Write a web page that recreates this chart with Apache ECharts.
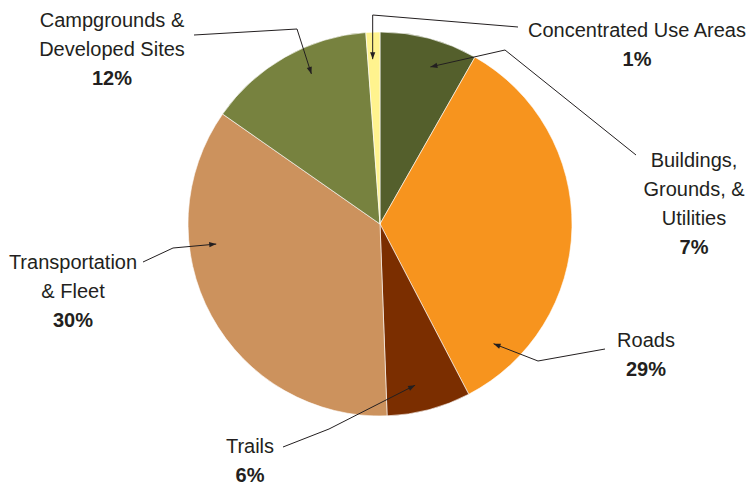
<!DOCTYPE html>
<html>
<head>
<meta charset="utf-8">
<script src="https://cdn.jsdelivr.net/npm/echarts@6/dist/echarts.min.js"></script>
<style>
  html, body { margin: 0; padding: 0; background: #ffffff; }
  #chart { width: 748px; height: 486px; }
</style>
</head>
<body>
<div id="chart"></div>
<script>
// Cost categories, clockwise from 12 o'clock
const categories = [
  'Buildings, Grounds, & Utilities',
  'Roads',
  'Trails',
  'Transportation & Fleet',
  'Campgrounds & Developed Sites',
  'Concentrated Use Areas'
];
// How each category name is broken over lines in its label
const labelLines = [
  ['Buildings,', 'Grounds, &', 'Utilities'],
  ['Roads'],
  ['Trails'],
  ['Transportation', '& Fleet'],
  ['Campgrounds &', 'Developed Sites'],
  ['Concentrated Use Areas']
];
// Share of the total, in percent
const shares = [7, 29, 6, 30, 12, 1];
const colors = ['#545f2c', '#f7941e', '#7b2e00', '#cc925d', '#77823f', '#fff38e'];

// Layout
const CX = 380, CY = 224, R = 192;
const FONT = "'Liberation Sans', Arial, sans-serif";
const FONT_SIZE = 20;
const TEXT_COLOR = '#231f20';
const labelPos = [[694, 203.5], [646, 354.5], [250, 460.5], [73, 291], [112, 49], [637, 44.5]];
const lineEnd  = [[636, 155], [605, 349], [283, 447], [143, 262], [194, 35], [518, 27]];
const elbowPos = [[505, 50], [538, 361], [329, 429], [173, 248], [297, 29], [null, 15]];
const pointerFrac = [0.6, 0.87, 0.6, 0.67, 0.6, 0.4];
const POINTER_R = 165;

// Pointer tips sit inside each slice, at a fraction of its sweep
const total = shares.reduce((a, b) => a + b, 0);
let acc = 0;
const tips = shares.map((v, i) => {
  const a0 = acc / total * 360;
  acc += v;
  const a1 = acc / total * 360;
  const a = (a0 + (a1 - a0) * pointerFrac[i]) * Math.PI / 180;
  return [CX + POINTER_R * Math.sin(a), CY - POINTER_R * Math.cos(a)];
});
const elbows = elbowPos.map((p, i) => [p[0] === null ? tips[i][0] : p[0], p[1]]);

// Leader line from the label to the slice
function leader(i) {
  return {
    type: 'polyline',
    silent: true,
    z: 100,
    shape: { points: [lineEnd[i], elbows[i], tips[i]] },
    style: { stroke: TEXT_COLOR, lineWidth: 1, fill: null }
  };
}
// Arrowhead at the pointer tip
function arrowHead(i) {
  const tip = tips[i], from = elbows[i];
  const dx = tip[0] - from[0], dy = tip[1] - from[1];
  const len = Math.hypot(dx, dy) || 1;
  const ux = dx / len, uy = dy / len;
  const L = 7, W = 2.6;
  return {
    type: 'polygon',
    silent: true,
    z: 101,
    shape: { points: [
      [tip[0], tip[1]],
      [tip[0] - ux * L - uy * W, tip[1] - uy * L + ux * W],
      [tip[0] - ux * L + uy * W, tip[1] - uy * L - ux * W]
    ] },
    style: { fill: TEXT_COLOR }
  };
}

const chart = echarts.init(document.getElementById('chart'), null, { renderer: 'svg' });
chart.setOption({
  backgroundColor: '#ffffff',
  animation: false,
  series: [{
    type: 'pie',
    center: [CX, CY],
    radius: R,
    startAngle: 90,
    clockwise: true,
    silent: true,
    avoidLabelOverlap: false,
    itemStyle: { borderColor: '#ffffff', borderWidth: 0.6 },
    data: categories.map((name, i) => ({ name: name, value: shares[i], itemStyle: { color: colors[i] } })),
    label: {
      show: true,
      position: 'outside',
      align: 'center',
      formatter: p => labelLines[p.dataIndex].map(s => '{n|' + s + '}').join('\n') +
        '\n{p|' + shares[p.dataIndex] + '%}',
      rich: {
        n: { fontFamily: FONT, fontSize: FONT_SIZE, lineHeight: 29, color: TEXT_COLOR, align: 'center' },
        p: { fontFamily: FONT, fontSize: FONT_SIZE, lineHeight: 29, color: TEXT_COLOR, fontWeight: 'bold', align: 'center' }
      }
    },
    labelLine: { show: false },
    labelLayout: p => ({
      x: labelPos[p.dataIndex][0],
      y: labelPos[p.dataIndex][1],
      align: 'center',
      verticalAlign: 'middle'
    })
  }],
  graphic: tips.map((t, i) => leader(i)).concat(tips.map((t, i) => arrowHead(i)))
});
</script>
</body>
</html>
